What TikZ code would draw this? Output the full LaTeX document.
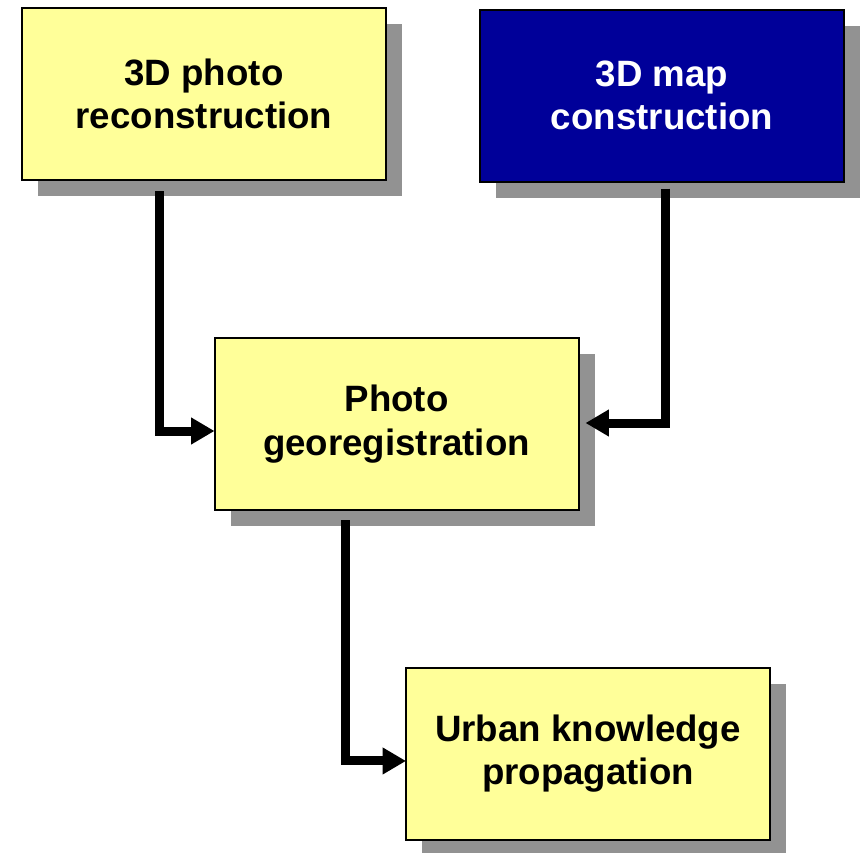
\documentclass[tikz,border=0pt]{standalone}
\usepackage{fontspec}
\setmainfont{Liberation Sans}
\usetikzlibrary{arrows.meta,shadows}
\definecolor{boxyellow}{HTML}{FFFF99}
\definecolor{boxnavy}{HTML}{000099}
\definecolor{shadowgray}{HTML}{929292}
\begin{document}
\begin{tikzpicture}[x=0.75pt,y=-0.75pt,
  box/.style={draw=black, line width=1.5pt, minimum width=273pt, minimum height=129pt,
    align=center, inner sep=0pt, outer sep=0pt,
    font=\fontsize{27.5}{32.8}\selectfont\bfseries,
    drop shadow={shadow xshift=12pt, shadow yshift=-12pt, fill=shadowgray, opacity=1}},
  yellowbox/.style={box, fill=boxyellow, text=black},
  navybox/.style={box, fill=boxnavy, text=white},
  conn/.style={draw=black, line width=6.75pt, line join=miter,
    -{Triangle[length=17.5pt,width=19pt]}}]
\useasboundingbox (0,0) rectangle (861,853);
\node[yellowbox] (A) at (204,94) {3D photo\\reconstruction};
\node[navybox] (B) at (662,95.5) {3D map\\construction};
\node[yellowbox] (C) at (396.5,424) {Photo\\georegistration};
\node[yellowbox] (D) at (588,753.5) {Urban knowledge\\propagation};
\draw[conn] ([xshift=-33.75pt,yshift=-8.25pt]A.south) |- ([yshift=-5.25pt]C.west);
\draw[conn] ([xshift=2.25pt,yshift=-5.25pt]B.south) |- ([xshift=5.25pt,yshift=0.75pt]C.east);
\draw[conn] ([xshift=-37.9pt,yshift=-7.5pt]C.south) |- ([yshift=-5.6pt]D.west);
\end{tikzpicture}
\end{document}
